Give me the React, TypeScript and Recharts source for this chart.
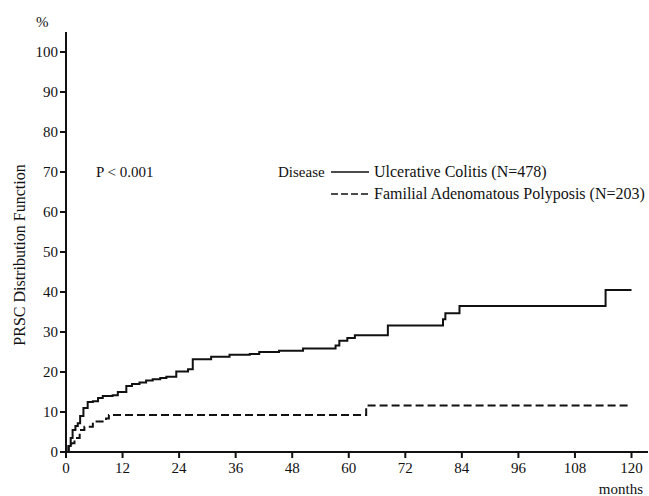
import { LineChart, Line, XAxis, YAxis } from "recharts";

const ucMonths = [0, 0.5, 1.0, 1.4, 2.0, 2.5, 3.0, 3.7, 4.6, 5.7, 6.8, 7.8, 9.9, 11.0, 12.8, 14, 15.6, 17, 18.4, 20, 21.3, 23.4, 25.9, 26.9, 30.8, 34.7, 39, 41, 45.2, 50.3, 57.2, 58, 59.7, 61.3, 68.3, 80, 80.5, 83.5, 114.5, 120];
const ucValues = [0, 1.5, 3.5, 5.5, 6.5, 7.2, 9, 11, 12.5, 12.7, 13.5, 14, 14.2, 15, 16.5, 17, 17.4, 17.9, 18.2, 18.5, 18.8, 20.1, 20.7, 23.2, 23.8, 24.3, 24.5, 25, 25.3, 25.9, 26.6, 27.8, 28.5, 29.2, 31.6, 33.2, 34.7, 36.5, 40.5, 40.5];

const fapMonths = [0, 0.6, 1.1, 1.8, 2.9, 3.9, 5.7, 8.5, 9.1, 63.7, 120];
const fapValues = [0, 1.5, 2.2, 3.5, 5.5, 6.3, 7.6, 8.4, 9.25, 11.6, 11.6];

const xTicks = [0, 12, 24, 36, 48, 60, 72, 84, 96, 108, 120];
const yTicks = [0, 10, 20, 30, 40, 50, 60, 70, 80, 90, 100];

const ucData = ucMonths.map((m, i) => ({ m, v: ucValues[i] }));
const fapData = fapMonths.map((m, i) => ({ m, v: fapValues[i] }));

const font = "'Liberation Serif', 'Times New Roman', serif";
const ink = "#111";

export default function App() {
  const tickTxt = { fontFamily: font, fontSize: 15, fill: ink };
  const txt = { fontFamily: font, fontSize: 16, fill: ink };
  return (
    <div style={{ position: "absolute", left: 0, top: 0, width: 649, height: 496, background: "#fff" }}>
      <LineChart
        width={649}
        height={496}
        margin={{ top: 32, right: 1, bottom: 12, left: 0 }}
      >
        <XAxis
          type="number"
          dataKey="m"
          domain={[0, 123.5]}
          ticks={xTicks}
          allowDataOverflow
          stroke={ink}
          strokeWidth={2}
          tickSize={6}
          tickMargin={4}
          height={32}
          tick={tickTxt}
        />
        <YAxis
          type="number"
          dataKey="v"
          domain={[0, 105]}
          ticks={yTicks}
          allowDataOverflow
          stroke={ink}
          strokeWidth={2}
          tickSize={6}
          tickMargin={2}
          width={66}
          tick={tickTxt}
        />
        <Line
          data={ucData}
          dataKey="v"
          type="stepAfter"
          stroke={ink}
          strokeWidth={2}
          dot={false}
          isAnimationActive={false}
        />
        <Line
          data={fapData}
          dataKey="v"
          type="stepAfter"
          stroke={ink}
          strokeWidth={2}
          strokeDasharray="8 4"
          dot={false}
          isAnimationActive={false}
        />
      </LineChart>

      <svg
        width={649}
        height={496}
        style={{ position: "absolute", left: 0, top: 0, pointerEvents: "none" }}
      >
        <text x={36} y={27} style={tickTxt}>%</text>
        <text
          x={0}
          y={0}
          textAnchor="middle"
          transform="translate(25,255) rotate(-90)"
          style={txt}
        >
          PRSC Distribution Function
        </text>
        <text x={96} y={177} style={tickTxt}>P &lt; 0.001</text>
        <text x={278} y={177} style={tickTxt}>Disease</text>
        <line x1={331} y1={172} x2={369} y2={172} stroke={ink} strokeWidth={1.6} />
        <text x={374} y={177} style={txt}>Ulcerative Colitis (N=478)</text>
        <line x1={331} y1={194} x2={369} y2={194} stroke={ink} strokeWidth={1.6} strokeDasharray="7 3" />
        <text x={374} y={199} style={txt}>Familial Adenomatous Polyposis (N=203)</text>
        <text x={643} y={494} textAnchor="end" style={tickTxt}>months</text>
      </svg>
    </div>
  );
}
